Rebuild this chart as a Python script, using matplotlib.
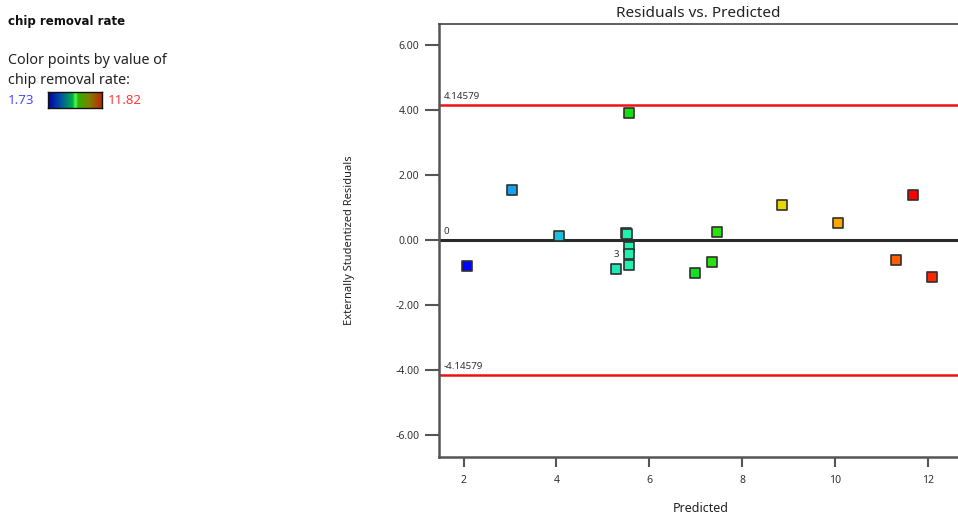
import matplotlib
matplotlib.use('Agg')
import matplotlib.pyplot as plt
from matplotlib.colors import LinearSegmentedColormap, Normalize
import numpy as np

plt.rcParams['font.family'] = ['Noto Sans', 'DejaVu Sans']

# predicted value, externally studentized residual, actual chip removal rate
predicted = [2.08, 3.04, 4.05, 5.57, 5.50, 5.53, 5.57, 5.57, 5.57, 5.28,
             6.99, 7.35, 7.46, 8.86, 10.06, 11.32, 11.68, 12.10]
residuals = [-0.81, 1.54, 0.12, 3.91, 0.23, 0.17, -0.22, -0.43, -0.77, -0.90,
             -1.03, -0.67, 0.25, 1.09, 0.53, -0.63, 1.38, -1.13]
actual = [1.73, 3.35, 3.95, 6.80, 5.40, 5.10, 5.10, 5.10, 5.10, 4.90,
          6.60, 6.95, 7.00, 9.00, 10.00, 10.80, 11.82, 11.40]

vmin, vmax = 1.73, 11.82
limit = 4.14579
x_ticks = [2, 4, 6, 8, 10, 12]
y_ticks = [-6, -4, -2, 0, 2, 4, 6]

point_cmap = LinearSegmentedColormap.from_list(
    'pts', ['#0000ff', '#18a8f0', '#20f0b0', '#10e010', '#e0f000', '#ffa000', '#ff0000'])
bar_cmap = LinearSegmentedColormap.from_list(
    'bar', [(0.0, '#0000a8'), (0.25, '#005aa0'), (0.45, '#00b040'), (0.5, '#50ff50'),
            (0.55, '#30b000'), (0.75, '#808000'), (1.0, '#c02000')])
norm = Normalize(vmin, vmax)

fig = plt.figure(figsize=(9.58, 5.17), dpi=100)
ax = fig.add_axes([439 / 958, 60 / 517, 1 - 439 / 958, 433 / 517])

ax.axhline(limit, color='#ee1111', lw=1.8, zorder=2)
ax.axhline(-limit, color='#ee1111', lw=1.8, zorder=2)
ax.axhline(0, color='#2a2a2a', lw=2.2, zorder=2)

ax.scatter(predicted, residuals, marker='s', s=52, c=[point_cmap(norm(v)) for v in actual],
           edgecolors='#303030', linewidths=1.2, zorder=3)

ax.text(1.57, limit + 0.12, '4.14579', fontsize=7, color='#333333', va='bottom')
ax.text(1.57, 0.12, '0', fontsize=7, color='#333333', va='bottom')
ax.text(1.57, -limit + 0.12, '-4.14579', fontsize=7, color='#333333', va='bottom')
ax.text(5.35, -0.46, '3', fontsize=7, color='#333333', ha='right', va='center')

ax.set_xlim(1.47, 12.65)
ax.set_ylim(-6.68, 6.65)
ax.set_xticks(x_ticks)
ax.set_xticklabels([str(t) for t in x_ticks])
ax.set_yticks(y_ticks)
ax.set_yticklabels(['%.2f' % t for t in y_ticks])
ax.tick_params(axis='x', length=7, width=1.5, color='#555555', labelsize=7.5,
               labelcolor='#333333', pad=6)
ax.tick_params(axis='y', length=10, width=1.5, color='#555555', labelsize=7.5,
               labelcolor='#333333', pad=4)

for side in ['left', 'bottom']:
    ax.spines[side].set_color('#555555')
    ax.spines[side].set_linewidth(1.8)
ax.spines['top'].set_color('#444444')
ax.spines['top'].set_linewidth(1.2)
ax.spines['right'].set_visible(False)

ax.set_title('Residuals vs. Predicted', fontsize=11, color='#222222', pad=5)
ax.set_xlabel('Predicted', fontsize=9, color='#222222', va='center')
ax.xaxis.set_label_coords(0.505, -51 / 433)
ax.set_ylabel('Externally Studentized Residuals', fontsize=8, color='#222222')
ax.yaxis.set_label_coords(-84 / 519, 0.5)

# colour key on the left
fig.text(8 / 958, 1 - 22 / 517, 'chip removal rate', fontsize=8.5, fontweight='bold',
         family=['DejaVu Sans'], color='#111111', va='center')
fig.text(8 / 958, 1 - 60 / 517, 'Color points by value of', fontsize=10.3, color='#222222', va='center')
fig.text(8 / 958, 1 - 80 / 517, 'chip removal rate:', fontsize=10.3, color='#222222', va='center')
fig.text(8 / 958, 1 - 100 / 517, '%.2f' % vmin, fontsize=9.5, color='#4a4aff', va='center')
fig.text(108 / 958, 1 - 100 / 517, '%.2f' % vmax, fontsize=9.5, color='#ff3b3b', va='center')
cax = fig.add_axes([48 / 958, 1 - 108 / 517, 54 / 958, 16 / 517])
cax.imshow(np.linspace(0, 1, 256)[None, :], aspect='auto', cmap=bar_cmap)
cax.set_xticks([])
cax.set_yticks([])
for s in cax.spines.values():
    s.set_color('#111111')
    s.set_linewidth(1.0)

plt.savefig('out.png', dpi=100)
plt.close(fig)
